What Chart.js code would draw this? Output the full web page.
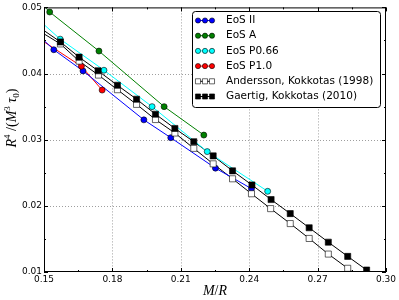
<!DOCTYPE html>
<html>
<head>
<meta charset="utf-8">
<script src="https://cdn.jsdelivr.net/npm/chart.js@4.4.0/dist/chart.umd.min.js"></script>
<style>
  body { margin: 0; background: #fff; }
  #wrap { width: 399px; height: 300px; }
</style>
</head>
<body>
<div id="wrap"><canvas id="chart" width="399" height="300"></canvas></div>
<script>
// values (M/R, R^4/(M^3 tau_0))
const eos2X = [0.1543, 0.1671, 0.1938, 0.2056, 0.2252, 0.2410];
const eos2Y = [0.0436, 0.0404, 0.0330, 0.0303, 0.0257, 0.0226];
const eosAX = [0.1525, 0.1741, 0.2027, 0.2201];
const eosAY = [0.0493, 0.0434, 0.0350, 0.0307];
const p066X = [0.1571, 0.1763, 0.1974, 0.2216, 0.2481];
const p066Y = [0.0452, 0.0405, 0.0350, 0.0282, 0.0222];
const p10X = [0.1664, 0.1755];
const p10Y = [0.0411, 0.0375];
const anderssonX = [0.1572, 0.1654, 0.1739, 0.1822, 0.1906, 0.1989, 0.2074, 0.2157, 0.2242, 0.2327, 0.2410, 0.2494, 0.2580, 0.2663, 0.2747, 0.2832];
const anderssonY = [0.04448, 0.04188, 0.03977, 0.03756, 0.03534, 0.03305, 0.03101, 0.02869, 0.02635, 0.02409, 0.02183, 0.01958, 0.01732, 0.01507, 0.01271, 0.01056];
const gaertigX = [0.1572, 0.1654, 0.1737, 0.1822, 0.1906, 0.1989, 0.2074, 0.2157, 0.2242, 0.2327, 0.2412, 0.2496, 0.2580, 0.2663, 0.2747, 0.2832, 0.2915];
const gaertigY = [0.04478, 0.04248, 0.04042, 0.03823, 0.03612, 0.03386, 0.03170, 0.02970, 0.02755, 0.02529, 0.02316, 0.02095, 0.01883, 0.01669, 0.01451, 0.01236, 0.01030];

// where the curves meet the left edge (M/R = 0.15), and the bottom edge
const edgeX = 0.15;
const eos2Edge = 0.0450;
const eosAEdge = 0.0502;
const p066Edge = 0.0474;
const p10Edge = 0.0448;
const anderssonEdge = 0.0460;
const gaertigEdge = 0.0465;
const anderssonEnd = [0.2853, 0.0100];
const gaertigEnd = [0.2926, 0.0100];

const xRange = [0.15, 0.30];
const yRange = [0.01, 0.05];

const series = [
    { label: 'EoS II', xs: eos2X, ys: eos2Y, edge: eos2Edge, color: '#0000ff', fill: '#0000ff', style: 'circle', r: 3 },
    { label: 'EoS A', xs: eosAX, ys: eosAY, edge: eosAEdge, color: '#008000', fill: '#008000', style: 'circle', r: 3 },
    { label: 'EoS P0.66', xs: p066X, ys: p066Y, edge: p066Edge, color: '#00ffff', fill: '#00ffff', style: 'circle', r: 3 },
    { label: 'EoS P1.0', xs: p10X, ys: p10Y, edge: p10Edge, color: '#ff0000', fill: '#ff0000', style: 'circle', r: 3 },
    { label: 'Andersson, Kokkotas (1998)', xs: anderssonX, ys: anderssonY, edge: anderssonEdge, end: anderssonEnd, color: '#000000', fill: '#ffffff', style: 'rect', r: 4.3 },
    { label: 'Gaertig, Kokkotas (2010)', xs: gaertigX, ys: gaertigY, edge: gaertigEdge, end: gaertigEnd, color: '#000000', fill: '#000000', style: 'rect', r: 4.3 },
];

const datasets = [];
series.forEach((s, i) => {
    const pts = s.xs.map((x, k) => ({ x, y: s.ys[k] }));
    const linePts = [{ x: edgeX, y: s.edge }].concat(pts);
    if (s.end) {
        linePts.push({ x: s.end[0], y: s.end[1] });
    }
    datasets.push({
        label: s.label + ' line',
        data: linePts,
        borderColor: s.color,
        borderWidth: 1,
        pointRadius: 0,
        tension: 0,
        order: 10,
    });
    datasets.push({
        label: s.label,
        data: pts,
        showLine: false,
        pointStyle: s.style,
        pointRadius: s.r,
        pointBackgroundColor: s.fill,
        pointBorderColor: '#000000',
        pointBorderWidth: 0.6,
        order: 8 - i,
    });
});

function drawRich(ctx, parts, x, y) {
    let cx = x;
    parts.forEach((p) => {
        ctx.font = p.font;
        ctx.fillText(p.t, cx, y + (p.dy || 0));
        cx += ctx.measureText(p.t).width;
    });
}

function richWidth(ctx, parts) {
    let w = 0;
    parts.forEach((p) => {
        ctx.font = p.font;
        w += ctx.measureText(p.t).width;
    });
    return w;
}

const framePlugin = {
    id: 'framePlugin',
    beforeDatasetsDraw(chart) {
        const ctx = chart.ctx;
        const a = chart.chartArea;
        const xs = chart.scales.x;
        const ys = chart.scales.y;
        ctx.save();
        ctx.strokeStyle = 'rgba(0,0,0,0.38)';
        ctx.lineWidth = 1;
        ctx.setLineDash([1, 2]);
        xs.ticks.forEach((t) => {
            const px = Math.round(xs.getPixelForValue(t.value)) + 0.5;
            if (px <= a.left + 1 || px >= a.right - 1) return;
            ctx.beginPath();
            ctx.moveTo(px, a.top);
            ctx.lineTo(px, a.bottom);
            ctx.stroke();
        });
        ys.ticks.forEach((t) => {
            const py = Math.round(ys.getPixelForValue(t.value)) + 0.5;
            if (py <= a.top + 1 || py >= a.bottom - 1) return;
            ctx.beginPath();
            ctx.moveTo(a.left, py);
            ctx.lineTo(a.right, py);
            ctx.stroke();
        });
        ctx.restore();
    },
    afterDatasetsDraw(chart) {
        const ctx = chart.ctx;
        const a = chart.chartArea;
        const xs = chart.scales.x;
        const ys = chart.scales.y;
        ctx.save();
        ctx.strokeStyle = '#000';
        ctx.lineWidth = 1;
        ctx.strokeRect(a.left + 0.5, a.top + 0.5, a.right - a.left - 1, a.bottom - a.top - 1);

        const tickMarks = (scale, horizontal) => {
            const vals = scale.ticks.map((t) => t.value);
            const marks = [];
            vals.forEach((v, k) => {
                marks.push([v, 4]);
                if (k < vals.length - 1) marks.push([(v + vals[k + 1]) / 2, 2]);
            });
            marks.forEach(([v, len]) => {
                const p = Math.round(scale.getPixelForValue(v)) + 0.5;
                ctx.beginPath();
                if (horizontal) {
                    ctx.moveTo(p, a.bottom); ctx.lineTo(p, a.bottom - len);
                    ctx.moveTo(p, a.top); ctx.lineTo(p, a.top + len);
                } else {
                    ctx.moveTo(a.left, p); ctx.lineTo(a.left + len, p);
                    ctx.moveTo(a.right, p); ctx.lineTo(a.right - len, p);
                }
                ctx.stroke();
            });
        };
        tickMarks(xs, true);
        tickMarks(ys, false);

        // axis titles
        ctx.fillStyle = '#000';
        ctx.textBaseline = 'alphabetic';
        const it = 'italic 14px "Liberation Serif"';
        const rm = '14px "Liberation Serif"';
        const sm = '9px "Liberation Serif"';
        const xParts = [{ t: 'M', font: it }, { t: '/', font: rm }, { t: 'R', font: it }];
        const xw = richWidth(ctx, xParts);
        drawRich(ctx, xParts, (a.left + a.right) / 2 - xw / 2, 295);

        const yParts = [
            { t: 'R', font: it }, { t: '4', font: sm, dy: -6 }, { t: ' /(', font: rm },
            { t: 'M', font: it }, { t: '3', font: sm, dy: -6 }, { t: ' \u03c4', font: it },
            { t: '0', font: sm, dy: 3 }, { t: ')', font: rm },
        ];
        const yw = richWidth(ctx, yParts);
        ctx.save();
        ctx.translate(16, 118);
        ctx.rotate(-Math.PI / 2);
        drawRich(ctx, yParts, -yw / 2, 0);
        ctx.restore();

        // legend box
        const bx = 192.5, by = 11.5, bw = 188, bh = 96, rr = 3;
        ctx.beginPath();
        ctx.moveTo(bx + rr, by);
        ctx.arcTo(bx + bw, by, bx + bw, by + bh, rr);
        ctx.arcTo(bx + bw, by + bh, bx, by + bh, rr);
        ctx.arcTo(bx, by + bh, bx, by, rr);
        ctx.arcTo(bx, by, bx + bw, by, rr);
        ctx.closePath();
        ctx.fillStyle = '#fff';
        ctx.fill();
        ctx.strokeStyle = '#000';
        ctx.stroke();

        ctx.font = '10.5px "DejaVu Sans"';
        ctx.textBaseline = 'middle';
        ctx.textAlign = 'left';
        series.forEach((s, i) => {
            const ly = 20.5 + i * 15.2;
            ctx.strokeStyle = s.color;
            ctx.lineWidth = 1;
            ctx.beginPath();
            ctx.moveTo(198, ly);
            ctx.lineTo(212, ly);
            ctx.stroke();
            [198, 205, 212].forEach((mx) => {
                ctx.fillStyle = s.fill;
                ctx.strokeStyle = '#000';
                ctx.lineWidth = 0.6;
                Chart.helpers.drawPoint(ctx, { pointStyle: s.style, rotation: 0, radius: s.style === 'rect' ? 3.6 : 2.6, borderWidth: 0.6 }, mx, ly);
            });
            ctx.fillStyle = '#000';
            ctx.fillText(s.label, 226, ly);
        });
        ctx.restore();
    },
};

const tickFont = { family: 'DejaVu Sans', size: 9 };

new Chart(document.getElementById('chart'), {
    type: 'line',
    data: { datasets },
    options: {
        responsive: false,
        animation: false,
        events: [],
        layout: { padding: { left: 0, right: 13, top: 6, bottom: 0 } },
        plugins: { legend: { display: false }, tooltip: { enabled: false } },
        scales: {
            x: {
                type: 'linear',
                min: xRange[0],
                max: xRange[1],
                grid: { display: false, drawTicks: false, tickLength: 0 },
                border: { display: false },
                afterFit: (scale) => { scale.height = 28; },
                ticks: {
                    stepSize: 0.03,
                    color: '#000',
                    font: tickFont,
                    padding: 2,
                    maxRotation: 0,
                    autoSkip: false,
                    callback: (v) => v.toFixed(2),
                },
            },
            y: {
                type: 'linear',
                min: yRange[0],
                max: yRange[1],
                grid: { display: false, drawTicks: false, tickLength: 0 },
                border: { display: false },
                afterFit: (scale) => { scale.width = 44; },
                ticks: {
                    stepSize: 0.01,
                    color: '#000',
                    font: tickFont,
                    padding: 2,
                    callback: (v) => v.toFixed(2),
                },
            },
        },
    },
    plugins: [framePlugin],
});
</script>
</body>
</html>
